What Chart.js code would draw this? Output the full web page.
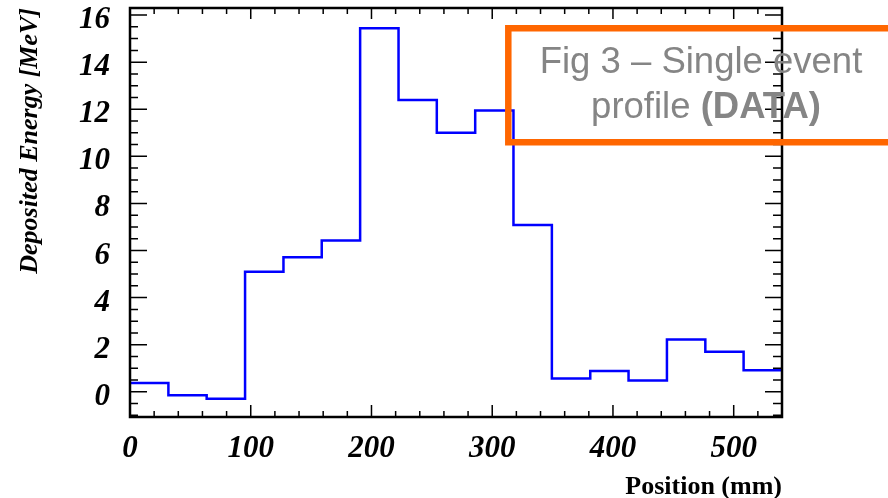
<!DOCTYPE html>
<html>
<head>
<meta charset="utf-8">
<script src="https://cdn.jsdelivr.net/npm/chart.js@4.4.1/dist/chart.umd.min.js"></script>
<style>
  html, body { margin: 0; padding: 0; background: #ffffff; }
  #wrap { width: 888px; height: 498px; position: relative; }
</style>
</head>
<body>
<div id="wrap"><canvas id="c" width="888" height="498"></canvas></div>
<script>
// ---- Data ----
const binEdges = [0, 31.8, 63.5, 95.3, 127.1, 158.8, 190.6, 222.4, 254.1, 285.9, 317.6, 349.4, 381.2, 412.9, 444.7, 476.5, 508.2, 540];
const depositedEnergy = [0.37, -0.15, -0.30, 5.10, 5.71, 6.43, 15.44, 12.39, 11.00, 11.95, 7.08, 0.57, 0.88, 0.48, 2.22, 1.70, 0.92];
const xTickLabels = [0, 100, 200, 300, 400, 500];
const yTickLabels = [0, 2, 4, 6, 8, 10, 12, 14, 16];
const xTitle = 'Position (mm)';
const yTitle = 'Deposited Energy [MeV]';
const noteLine1 = 'Fig 3 \u2013 Single event';
const noteLine2a = 'profile ';
const noteLine2b = '(DATA)';

// build stepped histogram points: value at each left edge, plus closing point at the last edge
const points = depositedEnergy.map((v, i) => ({ x: binEdges[i], y: v }));
points.push({ x: binEdges[binEdges.length - 1], y: depositedEnergy[depositedEnergy.length - 1] });

const SERIF = '"Liberation Serif", "Times New Roman", serif';
const SANS = '"Liberation Sans", Arial, sans-serif';

const frameTicks = {
  id: 'frameTicks',
  afterDatasetsDraw(chart) {
    const { ctx, chartArea: a, scales: { x, y } } = chart;
    ctx.save();
    ctx.strokeStyle = '#000';
    ctx.lineWidth = 1.5;
    ctx.beginPath();
    // x ticks, minor every 20, major every 100
    for (let v = 0; v <= x.max + 1e-6; v += 20) {
      const px = x.getPixelForValue(v);
      if (px <= a.left + 1 || px >= a.right - 1) continue;
      const major = Math.abs(v % 100) < 1e-6;
      const lb = major ? 12 : 6;
      const lt = major ? 11 : 6;
      ctx.moveTo(px, a.bottom); ctx.lineTo(px, a.bottom - lb);
      ctx.moveTo(px, a.top); ctx.lineTo(px, a.top + lt);
    }
    // y ticks, minor every 0.5, major every 2
    for (let v = -1; v <= y.max + 1e-6; v += 0.5) {
      const py = y.getPixelForValue(v);
      if (py <= a.top + 1 || py >= a.bottom - 1) continue;
      const major = Math.abs(v % 2) < 1e-6;
      const ll = major ? 17 : 8;
      const lr = major ? 17 : 9;
      ctx.moveTo(a.left, py); ctx.lineTo(a.left + ll, py);
      ctx.moveTo(a.right, py); ctx.lineTo(a.right - lr, py);
    }
    ctx.stroke();
    // frame
    ctx.lineWidth = 2.5;
    ctx.strokeRect(a.left, a.top, a.right - a.left, a.bottom - a.top);
    // y tick labels (slightly below their ticks, as in the reference)
    ctx.fillStyle = '#000';
    ctx.font = 'italic bold 31px ' + SERIF;
    ctx.textAlign = 'right';
    ctx.textBaseline = 'middle';
    yTickLabels.forEach(v => {
      ctx.fillText(String(v), a.left - 20, y.getPixelForValue(v) + 5);
    });
    ctx.restore();
  },
  afterDraw(chart) {
    const { ctx } = chart;
    ctx.save();
    // annotation text
    ctx.fillStyle = '#858585';
    ctx.textBaseline = 'alphabetic';
    ctx.textAlign = 'center';
    ctx.font = '36.5px ' + SANS;
    ctx.fillText(noteLine1, 701, 73);
    const w1 = ctx.measureText(noteLine2a).width;
    ctx.font = 'bold 36.5px ' + SANS;
    const w2 = ctx.measureText(noteLine2b).width;
    const start = 706 - (w1 + w2) / 2;
    ctx.textAlign = 'left';
    ctx.font = '36.5px ' + SANS;
    ctx.fillText(noteLine2a, start, 118);
    ctx.font = 'bold 36.5px ' + SANS;
    ctx.fillText(noteLine2b, start + w1, 118);
    // orange box (extends beyond the right edge)
    ctx.strokeStyle = '#FF6600';
    ctx.lineWidth = 6.5;
    ctx.beginPath();
    ctx.moveTo(900, 28.3);
    ctx.lineTo(508.3, 28.3);
    ctx.lineTo(508.3, 142.3);
    ctx.lineTo(900, 142.3);
    ctx.stroke();
    ctx.restore();
  }
};

new Chart(document.getElementById('c'), {
  type: 'line',
  data: {
    datasets: [{
      data: points,
      stepped: true,
      borderColor: '#0000FF',
      borderWidth: 2.5,
      pointRadius: 0,
      fill: false,
      tension: 0
    }]
  },
  options: {
    responsive: false,
    animation: false,
    devicePixelRatio: 1,
    layout: { padding: { left: 0, top: 8, right: 106, bottom: 0 } },
    plugins: { legend: { display: false }, tooltip: { enabled: false } },
    scales: {
      x: {
        type: 'linear',
        min: 0,
        max: 540,
        afterFit(s) { s.height = 81; s.paddingLeft = 0; s.paddingRight = 0; },
        afterBuildTicks(s) { s.ticks = xTickLabels.map(v => ({ value: v })); },
        grid: { display: false, drawTicks: false },
        border: { display: false },
        ticks: {
          color: '#000',
          padding: 13,
          maxRotation: 0,
          autoSkip: false,
          font: { family: SERIF, size: 31, weight: 'bold', style: 'italic' }
        },
        title: {
          display: true,
          text: xTitle,
          align: 'end',
          color: '#000',
          padding: 0,
          font: { family: SERIF, size: 26, weight: 'bold', lineHeight: 0.8 }
        }
      },
      y: {
        type: 'linear',
        min: -1.07,
        max: 16.3,
        afterFit(s) { s.width = 130; s.paddingTop = 0; s.paddingBottom = 0; },
        afterBuildTicks(s) { s.ticks = yTickLabels.map(v => ({ value: v })); },
        grid: { display: false, drawTicks: false },
        border: { display: false },
        ticks: { display: false },
        title: {
          display: true,
          text: yTitle,
          align: 'end',
          color: '#000',
          padding: { top: 17, bottom: 0 },
          font: { family: SERIF, size: 26, weight: 'bold', style: 'italic', lineHeight: 1 }
        }
      }
    }
  },
  plugins: [frameTicks]
});
</script>
</body>
</html>
